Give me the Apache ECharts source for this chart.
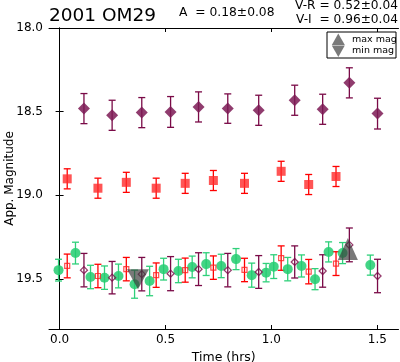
<!DOCTYPE html>
<html><head><meta charset="utf-8">
<script src="https://cdn.jsdelivr.net/npm/echarts@6/dist/echarts.min.js"></script>
<style>html,body{margin:0;padding:0;background:#fff}#c{width:400px;height:362px}</style>
</head><body><div id="c"></div>
<script>
const xTicks = [0.0, 0.5, 1.0, 1.5];
const yTicks = [18.0, 18.5, 19.0, 19.5];

// purple diamonds (filled: observed, open: colour-reduced)
const pTime = [0.115, 0.248, 0.388, 0.524, 0.656, 0.794, 0.940, 1.110, 1.242, 1.368, 1.501];
const pMag = [18.482, 18.522, 18.506, 18.502, 18.472, 18.482, 18.492, 18.432, 18.486, 18.328, 18.512];
const pErr = [0.09, 0.09, 0.09, 0.092, 0.09, 0.088, 0.09, 0.09, 0.09, 0.09, 0.092];
const pRedMag = [19.448, 19.493, 19.472, 19.469, 19.442, 19.448, 19.459, 19.399, 19.453, 19.297, 19.483];
const pRedErr = [0.10, 0.097, 0.10, 0.102, 0.098, 0.10, 0.098, 0.096, 0.097, 0.101, 0.10];

// red squares
const rTime = [0.036, 0.181, 0.315, 0.456, 0.593, 0.726, 0.873, 1.046, 1.176, 1.305];
const rMag = [18.902, 18.958, 18.923, 18.958, 18.929, 18.912, 18.929, 18.857, 18.936, 18.888];
const rErr = [0.06, 0.06, 0.06, 0.06, 0.06, 0.06, 0.06, 0.06, 0.06, 0.06];
const rRedMag = [19.423, 19.483, 19.442, 19.478, 19.448, 19.433, 19.447, 19.376, 19.457, 19.409];
const rRedErr = [0.071, 0.07, 0.07, 0.073, 0.072, 0.07, 0.07, 0.073, 0.073, 0.071];

// green circles
const gTime = [-0.005, 0.075, 0.146, 0.212, 0.278, 0.354, 0.425, 0.491, 0.561, 0.626, 0.692, 0.763, 0.833, 0.907, 0.975, 1.011, 1.077, 1.142, 1.206, 1.270, 1.336, 1.467];
const gMag = [19.448, 19.346, 19.489, 19.493, 19.483, 19.532, 19.513, 19.442, 19.453, 19.429, 19.412, 19.423, 19.382, 19.478, 19.463, 19.427, 19.442, 19.423, 19.502, 19.339, 19.346, 19.418];
const gErr = [0.065, 0.065, 0.070, 0.070, 0.071, 0.084, 0.088, 0.065, 0.070, 0.065, 0.068, 0.070, 0.063, 0.072, 0.055, 0.071, 0.070, 0.066, 0.063, 0.060, 0.063, 0.060];

// lightcurve extrema
const maxTime = [1.361], maxMag = [19.322];
const minTime = [0.370], minMag = [19.502];

const FONT = 'DejaVu Sans';
const PURPLE = '#7a0a47', RED = '#ff0000', GREEN = '#2fd07a';

function pts(t, m) { return t.map((x, i) => [x, m[i]]); }
function bars(t, m, e) { return t.map((x, i) => [x, m[i] - e[i], m[i] + e[i]]); }
function errSeries(t, m, e, color, cap) {
  return {
    type: 'custom', xAxisIndex: 0, yAxisIndex: 0, z: 2,
    encode: { x: 0, y: [1, 2] },
    data: bars(t, m, e),
    renderItem: function (params, api) {
      const x = api.value(0);
      const a = api.coord([x, api.value(1)]), b = api.coord([x, api.value(2)]);
      const st = { stroke: color, lineWidth: 1.3 };
      return { type: 'group', children: [
        { type: 'line', shape: { x1: a[0], y1: a[1], x2: b[0], y2: b[1] }, style: st },
        { type: 'line', shape: { x1: a[0] - cap, y1: a[1], x2: a[0] + cap, y2: a[1] }, style: st },
        { type: 'line', shape: { x1: b[0] - cap, y1: b[1], x2: b[0] + cap, y2: b[1] }, style: st }
      ]};
    }
  };
}
function scat(t, m, symbol, size, style, z) {
  return { type: 'scatter', data: pts(t, m), symbol: symbol, symbolSize: size, itemStyle: style, z: z || 3, silent: true };
}

const axisCommon = {
  axisLine: { show: true, lineStyle: { color: '#000', width: 1 } },
  splitLine: { show: false }
};

const chart = echarts.init(document.getElementById('c'), null, { renderer: 'canvas' });
chart.setOption({
  animation: false,
  backgroundColor: '#fff',
  grid: { left: 49, right: 1.5, top: 28, bottom: 33, containLabel: false, outerBoundsMode: 'none' },
  xAxis: [
    Object.assign({}, axisCommon, {
      type: 'value', min: -0.05, max: 1.6, position: 'bottom',
      axisTick: { show: true, inside: true, length: 4, customValues: xTicks, lineStyle: { color: '#000' } },
      axisLabel: { show: true, customValues: xTicks, formatter: v => v.toFixed(1), fontSize: 12, fontFamily: FONT, color: '#000', margin: 5 },
      name: 'Time (hrs)', nameLocation: 'middle', nameGap: 19,
      nameTextStyle: { fontSize: 12.5, fontFamily: FONT, color: '#000' }
    }),
    Object.assign({}, axisCommon, {
      type: 'value', min: -0.05, max: 1.6, position: 'top',
      axisTick: { show: true, inside: true, length: 4, customValues: xTicks, lineStyle: { color: '#000' } },
      axisLabel: { show: false }
    })
  ],
  yAxis: [
    Object.assign({}, axisCommon, {
      type: 'value', min: 18.0, max: 19.8, inverse: true, position: 'left',
      axisTick: { show: true, inside: true, length: 4, customValues: yTicks, lineStyle: { color: '#000' } },
      axisLabel: { show: true, customValues: yTicks, formatter: v => v.toFixed(1), fontSize: 12, fontFamily: FONT, color: '#000', margin: 6 }
    }),
    Object.assign({}, axisCommon, {
      type: 'value', min: 18.0, max: 19.8, inverse: true, position: 'right',
      axisTick: { show: true, inside: true, length: 4, customValues: yTicks, lineStyle: { color: '#000' } },
      axisLabel: { show: false }
    })
  ],
  series: [
    errSeries(pTime, pMag, pErr, PURPLE, 3.5),
    errSeries(rTime, rMag, rErr, RED, 3.5),
    errSeries(gTime, gMag, gErr, GREEN, 3.5),
    errSeries(rTime, rRedMag, rRedErr, RED, 3.5),
    errSeries(pTime, pRedMag, pRedErr, PURPLE, 3.5),
    scat(pTime, pMag, 'diamond', 12, { color: '#7d1a55', opacity: 0.85 }),
    scat(rTime, rMag, 'rect', 9, { color: '#ff2a2a', opacity: 0.8 }),
    scat(gTime, gMag, 'circle', 10, { color: '#22cc70', opacity: 0.85 }),
    scat(rTime, rRedMag, 'rect', 5, { color: 'rgba(0,0,0,0)', borderColor: '#ff2020', borderWidth: 1.2 }),
    scat(pTime, pRedMag, 'diamond', 7, { color: 'rgba(0,0,0,0)', borderColor: PURPLE, borderWidth: 1.3 }),
    { type: 'scatter', data: pts(maxTime, maxMag), symbol: 'triangle', symbolSize: [20, 22], itemStyle: { color: '#3a3a3a', opacity: 0.68 }, z: 5, silent: true },
    { type: 'scatter', data: pts(minTime, minMag), symbol: 'triangle', symbolRotate: 180, symbolSize: [22, 20], itemStyle: { color: '#3a3a3a', opacity: 0.68 }, z: 5, silent: true }
  ],
  graphic: [
    { type: 'text', x: 10, y: 178.5, rotation: Math.PI / 2, style: { text: 'App. Magnitude', font: '12px "DejaVu Sans"', fill: '#000', align: 'center', verticalAlign: 'middle' } },
    { type: 'text', left: 49, top: 7, style: { text: '2001 OM29', font: '18.5px "DejaVu Sans"', fill: '#000' } },
    { type: 'text', left: 179, top: 7, style: { text: 'A  = 0.18±0.08', font: '12.3px "DejaVu Sans"', fill: '#000' } },
    { type: 'text', right: 2, top: 0, style: { text: 'V-R = 0.52±0.04', font: '12.2px "DejaVu Sans"', fill: '#000' } },
    { type: 'text', right: 2, top: 14, style: { text: 'V-I  = 0.96±0.04', font: '12.2px "DejaVu Sans"', fill: '#000' } },
    { type: 'rect', shape: { x: 327, y: 32, width: 69, height: 26 }, style: { fill: '#fff', stroke: '#000', lineWidth: 1 }, z: 10 },
    { type: 'polygon', shape: { points: [[338.3, 33.5], [331.8, 45], [344.8, 45]] }, style: { fill: '#3a3a3a', opacity: 0.68 }, z: 11 },
    { type: 'polygon', shape: { points: [[331.8, 45.5], [344.8, 45.5], [338.3, 57]] }, style: { fill: '#3a3a3a', opacity: 0.68 }, z: 11 },
    { type: 'text', x: 352, y: 40, style: { text: 'max mag', font: '9.5px "DejaVu Sans"', fill: '#000', verticalAlign: 'middle' }, z: 11 },
    { type: 'text', x: 352, y: 50.5, style: { text: 'min mag', font: '9.5px "DejaVu Sans"', fill: '#000', verticalAlign: 'middle' }, z: 11 }
  ]
});
</script>
</body></html>
